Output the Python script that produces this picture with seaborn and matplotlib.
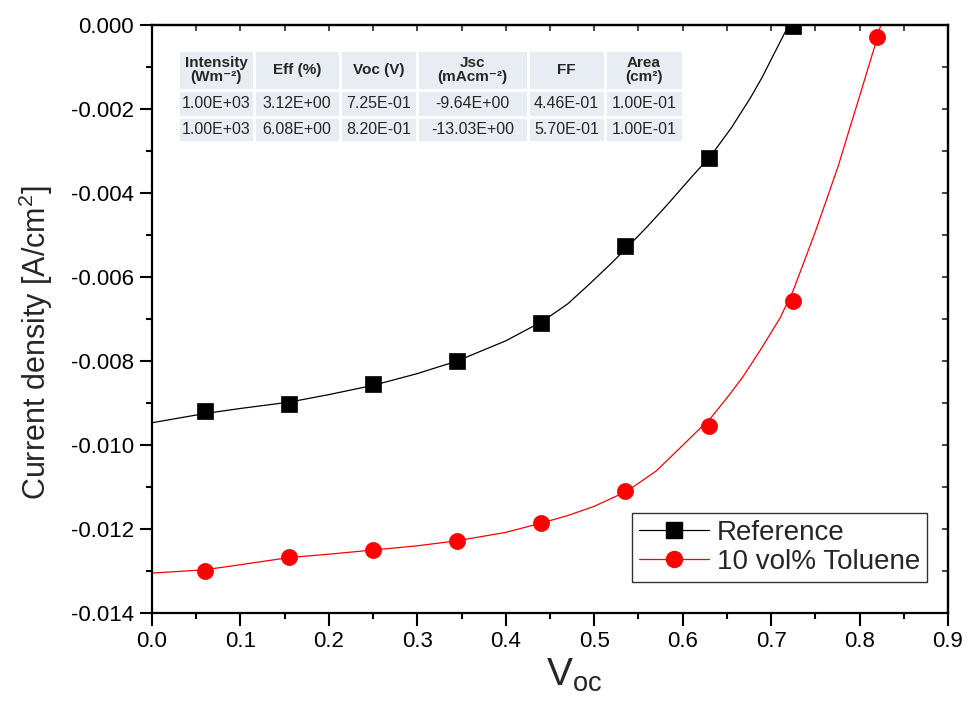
import numpy as np
import pandas as pd
import matplotlib
matplotlib.use("Agg")
import matplotlib.pyplot as plt
from matplotlib.lines import Line2D
from matplotlib.ticker import MultipleLocator, FormatStrFormatter
import seaborn as sns

# ---------------- data ----------------
voltage = [0.06, 0.155, 0.25, 0.345, 0.44, 0.535, 0.63, 0.725]
ref_j = [-0.00918, -0.00903, -0.00855, -0.00800, -0.00710, -0.00527, -0.00317, -0.00002]

tol_voltage = [0.06, 0.155, 0.25, 0.345, 0.44, 0.535, 0.63, 0.725, 0.82]
tol_j = [-0.01300, -0.01267, -0.01251, -0.01229, -0.01186, -0.01109, -0.00955, -0.00657, -0.00029]

# fitted curves
ref_fit_v = [0.000, 0.030, 0.060, 0.100, 0.155, 0.200, 0.250, 0.300, 0.345, 0.400, 0.442, 0.470,
             0.494, 0.520, 0.537, 0.560, 0.583, 0.610, 0.632, 0.655, 0.677, 0.690, 0.703, 0.720]
ref_fit_j = [-0.00947, -0.00936, -0.00925, -0.00913, -0.00898, -0.00880, -0.00858, -0.00830, -0.00800,
             -0.00752, -0.00705, -0.00664, -0.00618, -0.00566, -0.00530, -0.00480, -0.00427, -0.00362,
             -0.00311, -0.00245, -0.00172, -0.00124, -0.00070, 0.0]

tol_fit_v = [0.000, 0.060, 0.100, 0.155, 0.200, 0.250, 0.300, 0.345, 0.400, 0.440, 0.470, 0.500, 0.537,
             0.570, 0.598, 0.615, 0.632, 0.650, 0.668, 0.689, 0.710, 0.725, 0.737, 0.750, 0.762, 0.776,
             0.790, 0.800, 0.810, 0.818, 0.824]
tol_fit_j = [-0.01305, -0.01297, -0.01285, -0.01268, -0.01260, -0.01250, -0.01240, -0.01228, -0.01208,
             -0.01186, -0.01168, -0.01146, -0.01110, -0.01062, -0.01005, -0.00970, -0.00935, -0.00888,
             -0.00838, -0.00770, -0.00698, -0.00632, -0.00565, -0.00492, -0.00420, -0.00335, -0.00238,
             -0.00170, -0.00100, -0.00045, 0.0]

series_names = ["Reference", "10 vol% Toluene"]

table_headers = ["Intensity\n(Wm\u207b\u00b2)", "Eff (%)", "Voc (V)", "Jsc\n(mAcm\u207b\u00b2)", "FF", "Area\n(cm\u00b2)"]
table_row_ref = ["1.00E+03", "3.12E+00", "7.25E-01", "-9.64E+00", "4.46E-01", "1.00E-01"]
table_row_tol = ["1.00E+03", "6.08E+00", "8.20E-01", "-13.03E+00", "5.70E-01", "1.00E-01"]

x_ticks = [0.0, 0.1, 0.2, 0.3, 0.4, 0.5, 0.6, 0.7, 0.8, 0.9]
y_ticks = [0.000, -0.002, -0.004, -0.006, -0.008, -0.010, -0.012, -0.014]

# ---------------- style ----------------
sns.set_style("ticks")
plt.rcParams["font.family"] = ["Liberation Sans", "DejaVu Sans"]
plt.rcParams["axes.unicode_minus"] = False
plt.rcParams["mathtext.fontset"] = "custom"
plt.rcParams["mathtext.rm"] = "Liberation Sans"
plt.rcParams["mathtext.it"] = "Liberation Sans"

fig = plt.figure(figsize=(9.7, 7.15), dpi=100)
ax = fig.add_axes([152 / 970, 1 - 613 / 715, (948 - 152) / 970, (613 - 25) / 715])

# curves
sns.lineplot(x=ref_fit_v, y=ref_fit_j, color="black", lw=0.9, ax=ax, sort=False, estimator=None)
sns.lineplot(x=tol_fit_v, y=tol_fit_j, color="red", lw=0.9, ax=ax, sort=False, estimator=None)
# markers
sns.scatterplot(x=voltage, y=ref_j, marker="s", s=125, color="black", edgecolor="black", linewidth=0.5,
                ax=ax, zorder=5)
sns.scatterplot(x=tol_voltage, y=tol_j, marker="o", s=135, color="red", edgecolor="red", linewidth=0.5,
                ax=ax, zorder=5)

ax.set_xlim(0, 0.9)
ax.set_ylim(-0.014, 0.0)
ax.set_xticks(x_ticks)
ax.set_yticks(y_ticks)
ax.xaxis.set_major_formatter(FormatStrFormatter("%.1f"))
ax.yaxis.set_major_formatter(FormatStrFormatter("%.3f"))
ax.xaxis.set_minor_locator(MultipleLocator(0.05))
ax.yaxis.set_minor_locator(MultipleLocator(0.001))
ax.tick_params(which="major", direction="out", length=9, width=1.5, labelsize=16, color="black",
               labelcolor="black", pad=4)
ax.tick_params(which="minor", direction="out", length=4.5, width=1.5, color="black")
for sp in ax.spines.values():
    sp.set_visible(True)
    sp.set_linewidth(1.6)
    sp.set_color("black")

# inward ticks on top / right
top = ax.secondary_xaxis("top")
top.set_xticks(list(np.arange(0, 0.91, 0.05)))
top.tick_params(direction="in", length=4, width=1.2, labeltop=False)
top.spines["top"].set_linewidth(1.6)
right = ax.secondary_yaxis("right")
right.set_yticks(list(np.arange(-0.014, 0.0001, 0.001)))
right.tick_params(direction="in", length=4, width=1.2, labelright=False)
right.spines["right"].set_linewidth(1.6)

ax.set_ylabel("Current density [A/cm$^\\mathregular{2}$]", fontsize=22)
ax.yaxis.set_label_coords(-0.122, 0.46)
ax.set_xlabel("$\\mathregular{V_{oc}}$", fontsize=28)
ax.xaxis.set_label_coords(0.53, -0.075)

# legend
handles = [
    Line2D([], [], color="black", lw=0.9, marker="s", markersize=11, markerfacecolor="black"),
    Line2D([], [], color="red", lw=0.9, marker="o", markersize=11.5, markerfacecolor="red"),
]
leg = ax.legend(handles, series_names, loc="lower right", bbox_to_anchor=(0.974, 0.053),
                borderaxespad=0, fontsize=20, frameon=True, fancybox=False, framealpha=1,
                edgecolor="#333333", handlelength=2.5, handletextpad=0.3, labelspacing=0.12,
                borderpad=0.25)
leg.get_frame().set_linewidth(1.0)

# table
col_w = [76, 86, 77, 111, 77, 78]
tab = ax.table(cellText=[table_row_ref, table_row_tol], colLabels=table_headers,
               colWidths=[w / sum(col_w) for w in col_w], cellLoc="center",
               bbox=[(178 - 152) / 796, 1 - (142 - 25) / 588, (683 - 178) / 796, (142 - 50) / 588])
tab.auto_set_font_size(False)
row_h = [40, 26, 25]
for (r, c), cell in tab.get_celld().items():
    cell.set_facecolor("#e8ecf3")
    cell.set_edgecolor("white")
    cell.set_linewidth(2)
    cell.set_height(row_h[r])
    cell.PAD = 0.02
    txt = cell.get_text()
    if r == 0:
        txt.set_fontsize(11)
        txt.set_fontweight("bold")
        txt.set_linespacing(1.05)
    else:
        txt.set_fontsize(11.5)

fig.savefig("out.png", dpi=100, facecolor="white")
